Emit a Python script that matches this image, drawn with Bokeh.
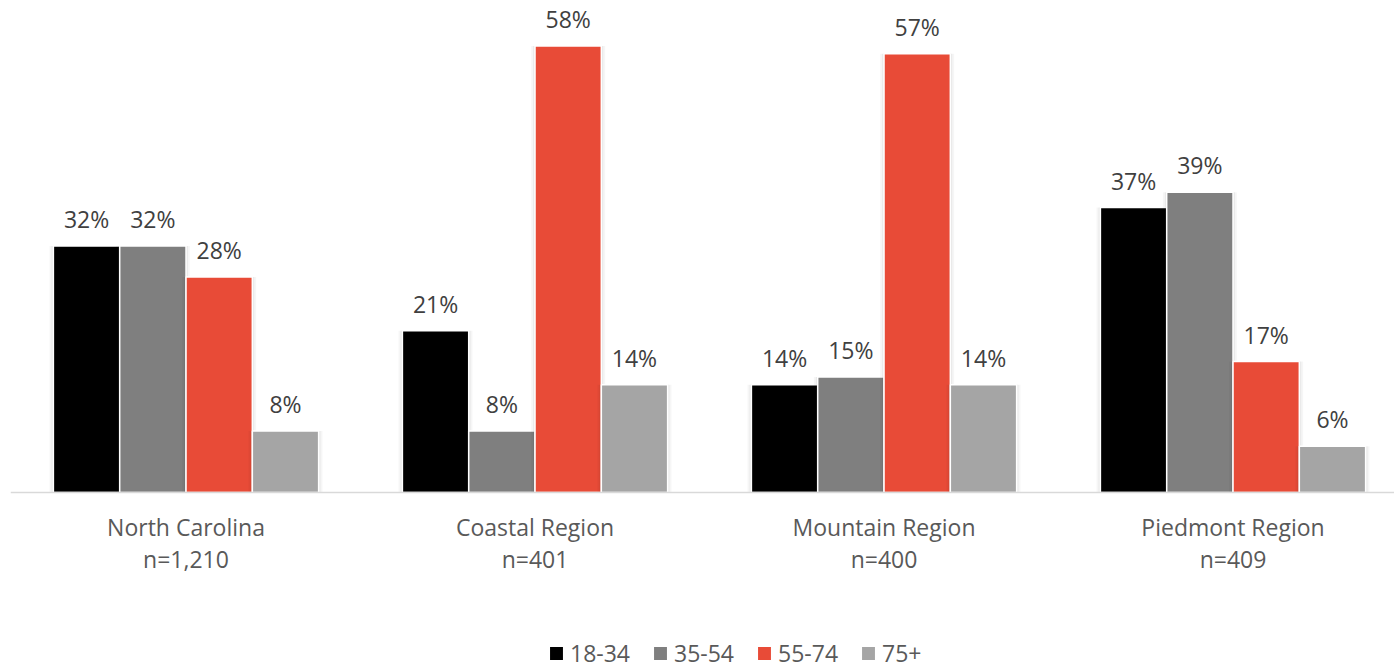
from bokeh.plotting import figure
from bokeh.models import Range1d, ColumnDataSource, Legend, LegendItem, Span
from bokeh.core.properties import value
from bokeh.embed import file_html
from bokeh.resources import INLINE

groups = ["North Carolina", "Coastal Region", "Mountain Region", "Piedmont Region"]
group_n = ["n=1,210", "n=401", "n=400", "n=409"]
series = ["18-34", "35-54", "55-74", "75+"]
colors = ["#000000", "#7F7F7F", "#E84B37", "#A5A5A5"]
values = {
    "18-34": [32, 21, 14, 37],
    "35-54": [32, 8, 15, 39],
    "55-74": [28, 58, 57, 17],
    "75+": [8, 14, 14, 6],
}

FONT = "Open Sans"
W, H = 1394, 669
p = figure(width=W, height=H, output_backend="svg", toolbar_location=None,
           x_range=Range1d(-0.5029, 3.4627), y_range=Range1d(-22.99, 63.9),
           x_axis_location=None, y_axis_location=None,
           min_border_left=10, min_border_right=0,
           min_border_top=0, min_border_bottom=0)
p.outline_line_color = None
p.xgrid.visible = False
p.ygrid.visible = False

# baseline (category axis line)
p.add_layout(Span(location=0, dimension="width", line_color="#D9D9D9", line_width=1.5))

bw = 0.19
xs = list(range(len(groups)))
bar_renderers = []
for k, s in enumerate(series):
    off = (k - 1.5) * bw
    src = ColumnDataSource(dict(x=[i + off for i in xs], top=values[s],
                                lab=[f"{v}%" for v in values[s]]))
    # soft shadow
    p.vbar(x="x", top="top", width=bw + 0.022, bottom=0, source=src,
           fill_color="#000000", fill_alpha=0.035, line_color=None)
    p.vbar(x="x", top="top", width=bw + 0.011, bottom=0, source=src,
           fill_color="#000000", fill_alpha=0.05, line_color=None)
    r = p.vbar(x="x", top="top", width=bw, bottom=0, source=src,
               fill_color=colors[k], line_color="white", line_width=1.5)
    bar_renderers.append(r)
    p.text(x="x", y="top", text="lab", source=src, y_offset=-27,
           text_align="center", text_baseline="alphabetic",
           text_font=value(FONT), text_font_size="23px", text_color="#404040")

# category labels below the baseline
cat_src = ColumnDataSource(dict(x=xs, y=[0] * 4, name=groups, n=group_n))
p.text(x="x", y="y", text="name", source=cat_src, y_offset=35,
       text_align="center", text_baseline="alphabetic",
       text_font=value(FONT), text_font_size="23px", text_color="#595959")
p.text(x="x", y="y", text="n", source=cat_src, y_offset=67,
       text_align="center", text_baseline="alphabetic",
       text_font=value(FONT), text_font_size="23px", text_color="#595959")

# legend
items = [LegendItem(label=s, renderers=[bar_renderers[k]]) for k, s in enumerate(series)]
legend = Legend(items=items, orientation="horizontal", location=(537, 0),
                glyph_width=18, glyph_height=18, label_standoff=5, spacing=21,
                padding=0, margin=0, border_line_color=None,
                background_fill_alpha=0,
                label_text_font=FONT, label_text_font_size="23px",
                label_text_color="#595959")
p.add_layout(legend, "center")

open("out.html", "w").write(file_html(p, INLINE))
